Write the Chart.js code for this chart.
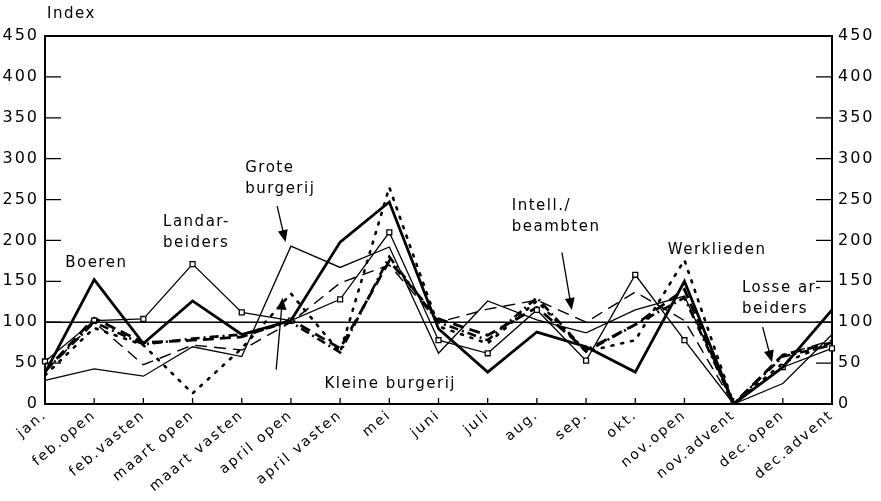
<!DOCTYPE html>
<html>
<head>
<meta charset="utf-8">
<script src="https://cdn.jsdelivr.net/npm/chart.js@4.4.1/dist/chart.umd.min.js"></script>
<style>
  html, body { margin: 0; padding: 0; background: #fff; }
  canvas { display: block; }
</style>
</head>
<body>
<canvas id="chart" width="881" height="501"></canvas>
<script>
const categories = ["jan.", "feb.open", "feb.vasten", "maart open", "maart vasten", "april open", "april vasten",
  "mei", "juni", "juli", "aug.", "sep.", "okt.", "nov.open", "nov.advent", "dec.open", "dec.advent"];

const boeren        = [38, 152, 74, 126, 85, 102, 198, 247, 92, 39, 88, 70, 39, 150, 0, 45, 115];
const landarbeiders = [52, 102, 104, 171, 112, 102, 128, 210, 78, 62, 115, 53, 158, 78, 0, 45, 68];
const groteBurgerij = [29, 43, 34, 70, 58, 193, 167, 192, 62, 126, 103, 87, 115, 132, 0, 25, 85];
const kleineBurgerij= [40, 100, 73, 80, 85, 100, 63, 180, 100, 78, 130, 64, 97, 130, 0, 58, 72];
const intell        = [40, 100, 48, 72, 66, 100, 148, 170, 100, 116, 127, 100, 137, 102, 0, 60, 78];
const werklieden    = [35, 93, 72, 13, 68, 135, 63, 265, 95, 74, 126, 64, 78, 176, 0, 50, 75];
const losseArbeiders= [40, 105, 75, 78, 82, 103, 68, 175, 104, 84, 118, 66, 97, 140, 0, 60, 75];

const yTicks = [0, 50, 100, 150, 200, 250, 300, 350, 400, 450];
const referenceLevel = 100;

// annotation labels: [text lines, category index, value]
const labels = [
  [["Boeren"], 0.41, 172],
  [["Landar-", "beiders"], 2.4, 222],
  [["Grote", "burgerij"], 4.07, 288],
  [["Kleine burgerij"], 5.68, 24],
  [["Intell./", "beambten"], 9.49, 242],
  [["Werklieden"], 12.66, 188],
  [["Losse ar-", "beiders"], 14.17, 142]
];
// arrows: [from index, from value, to index, to value]
const arrows = [
  [4.72, 242, 4.89, 198],
  [4.7, 42, 4.83, 130],
  [10.51, 185, 10.71, 115],
  [14.59, 94, 14.78, 51]
];

const FONT = "'DejaVu Sans', sans-serif";
const ctx = document.getElementById("chart").getContext("2d");

const decorations = {
  id: "decorations",
  beforeDraw(chart) {
    chart.ctx.letterSpacing = "2px";
  },
  afterDraw(chart) {
    const c = chart.ctx;
    const area = chart.chartArea;
    const x = chart.scales.x, y = chart.scales.y;
    c.save();
    c.strokeStyle = "#000";
    c.fillStyle = "#000";
    // frame top and reference line
    c.lineWidth = 2;
    c.beginPath();
    c.moveTo(area.left, area.top); c.lineTo(area.right, area.top);
    c.stroke();
    c.lineWidth = 1.6;
    c.beginPath();
    c.moveTo(area.left, y.getPixelForValue(referenceLevel));
    c.lineTo(area.right, y.getPixelForValue(referenceLevel));
    c.stroke();
    // inward ticks
    c.lineWidth = 1.3;
    yTicks.forEach(v => {
      if (v === 0 || v === 450) return;
      const py = y.getPixelForValue(v);
      c.beginPath();
      c.moveTo(area.left, py); c.lineTo(area.left + 16, py);
      c.moveTo(area.right, py); c.lineTo(area.right - 16, py);
      c.stroke();
    });
    categories.forEach((_, i) => {
      const px = x.getPixelForValue(i);
      c.beginPath();
      c.moveTo(px, area.bottom); c.lineTo(px, area.bottom - 6);
      c.stroke();
    });
    // label texts
    c.font = "15px " + FONT;
    c.letterSpacing = "1.5px";
    c.textBaseline = "middle";
    c.textAlign = "left";
    c.fillText("Index", 47, 14);
    labels.forEach(([lines, i, v]) => {
      const px = x.getPixelForValue(i), py = y.getPixelForValue(v);
      lines.forEach((t, k) => c.fillText(t, px, py + k * 21));
    });
    // arrows
    c.lineWidth = 1.3;
    arrows.forEach(([i0, v0, i1, v1]) => {
      const x0 = x.getPixelForValue(i0), y0 = y.getPixelForValue(v0);
      const x1 = x.getPixelForValue(i1), y1 = y.getPixelForValue(v1);
      const a = Math.atan2(y1 - y0, x1 - x0);
      c.beginPath();
      c.moveTo(x0, y0); c.lineTo(x1 - 8 * Math.cos(a), y1 - 8 * Math.sin(a));
      c.stroke();
      c.beginPath();
      c.moveTo(x1, y1);
      c.lineTo(x1 - 12 * Math.cos(a) + 5 * Math.sin(a), y1 - 12 * Math.sin(a) - 5 * Math.cos(a));
      c.lineTo(x1 - 12 * Math.cos(a) - 5 * Math.sin(a), y1 - 12 * Math.sin(a) + 5 * Math.cos(a));
      c.closePath();
      c.fill();
    });
    c.restore();
  }
};

function series(label, data, width, dash, extra) {
  return Object.assign({
    label: label,
    data: data,
    borderColor: "#000",
    backgroundColor: "#000",
    borderWidth: width,
    borderDash: dash,
    borderCapStyle: "butt",
    borderJoinStyle: "miter",
    pointRadius: 0,
    tension: 0,
    fill: false
  }, extra || {});
}

const yScale = (pos, w) => ({
  position: pos,
  min: 0,
  max: 450,
  ticks: { stepSize: 50, color: "#000", font: { family: FONT, size: 16 }, padding: 6 },
  grid: { display: false, drawTicks: false },
  border: { display: true, color: "#000", width: 2 },
  afterFit(scale) { scale.width = w; }
});

new Chart(ctx, {
  type: "line",
  data: {
    labels: categories,
    datasets: [
      series("Boeren", boeren, 2.8, []),
      series("Landarbeiders", landarbeiders, 1.3, [], {
        pointRadius: 3.5, pointStyle: "rect", pointBackgroundColor: "#fff",
        pointBorderColor: "#000", pointBorderWidth: 1.3
      }),
      series("Grote burgerij", groteBurgerij, 1.3, []),
      series("Kleine burgerij", kleineBurgerij, 2.6, [9, 4, 2, 4]),
      series("Intell./beambten", intell, 1.4, [12, 7]),
      series("Werklieden", werklieden, 2.6, [2, 8], { borderCapStyle: "round" }),
      series("Losse arbeiders", losseArbeiders, 2.8, [11, 6])
    ]
  },
  options: {
    responsive: false,
    animation: false,
    layout: { padding: { top: 36, left: 0, right: 0, bottom: 0 } },
    plugins: { legend: { display: false }, tooltip: { enabled: false } },
    scales: {
      x: {
        offset: false,
        grid: { display: false, drawTicks: false },
        border: { display: true, color: "#000", width: 2 },
        ticks: { color: "#000", font: { family: FONT, size: 14 }, minRotation: 40, maxRotation: 40, padding: 3, autoSkip: false },
        afterFit(scale) { scale.height = 97; }
      },
      y: yScale("left", 45),
      y2: yScale("right", 49)
    }
  },
  plugins: [decorations]
});
</script>
</body>
</html>
